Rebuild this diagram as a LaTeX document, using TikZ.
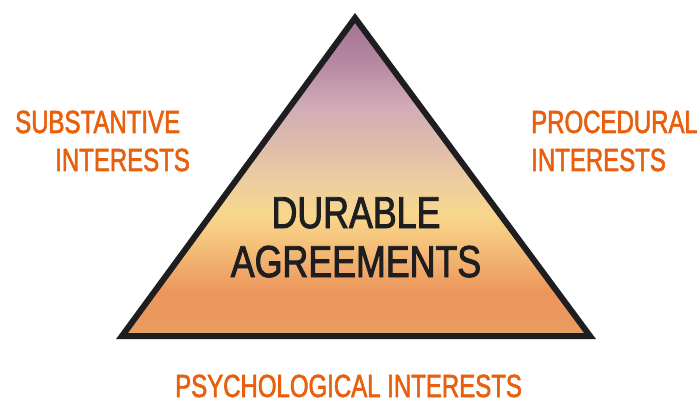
\documentclass[tikz,border=0pt]{standalone}
\usepackage{fontspec}
\setmainfont{Liberation Sans}
\newfontfamily\sidefont{Liberation Sans}[FakeStretch=0.75,FakeBold=1.8]
\newfontfamily\corefont{Liberation Sans}[FakeStretch=0.80,FakeBold=2]
\usetikzlibrary{positioning, calc}
\definecolor{interest}{RGB}{232,96,14}
\definecolor{edgeink}{RGB}{30,30,32}
\definecolor{agreebase}{RGB}{228,164,104}
\definecolor{agreeorange}{RGB}{236,150,92}
\definecolor{agreepeach}{RGB}{244,190,120}
\definecolor{agreeyellow}{RGB}{248,215,140}
\definecolor{agreesand}{RGB}{236,205,160}
\definecolor{agreerose}{RGB}{222,188,172}
\definecolor{agreepink}{RGB}{210,172,182}
\definecolor{agreemauve}{RGB}{182,136,162}
\definecolor{agreeplum}{RGB}{166,118,150}
% bottom (25bp) to top (75bp) of the pyramid
\pgfdeclareverticalshading{agreement}{100bp}{
  color(0bp)=(agreebase); color(25bp)=(agreebase);
  color(27bp)=(agreeorange!80!agreebase); color(32bp)=(agreeorange);
  color(39bp)=(agreepeach); color(44bp)=(agreeyellow);
  color(49.5bp)=(agreesand); color(55bp)=(agreerose);
  color(61bp)=(agreepink); color(68bp)=(agreemauve);
  color(74bp)=(agreeplum); color(100bp)=(agreeplum)}
\tikzstyle{pyramid}=[draw=edgeink, line width=6pt, line join=miter, shading=agreement]
\tikzstyle{interests}=[inner sep=0pt, text=interest, align=left,
  font=\sidefont\fontsize{32}{38}\selectfont]
\tikzstyle{core}=[inner sep=0pt, text=edgeink, align=center,
  font=\corefont\fontsize{44.7}{49}\selectfont]

\begin{document}
\begin{tikzpicture}[x=1pt, y=-1pt]
    \useasboundingbox (0,0) rectangle (697,401);
    % Corners
    \coordinate (apex) at (355,18);
    \coordinate (baseleft) at (122,336);
    \coordinate (baseright) at (590,336);

    % Pyramid
    \draw[pyramid] (apex) -- (baseleft) -- (baseright) -- cycle;
    \node[core, anchor=base] (agreements) at (356,277) {DURABLE\\AGREEMENTS};

    % Interests (anchored on the last line)
    \node[interests, anchor=base west] (substantive) at (15,171)
      {SUBSTANTIVE\\\hspace*{40pt}INTERESTS};
    \node[interests, anchor=base west] (procedural) at (531,171)
      {PROCEDURAL\\INTERESTS};
    \node[interests, anchor=base west] (psychological) at (175,397)
      {PSYCHOLOGICAL INTERESTS};
\end{tikzpicture}
\end{document}
